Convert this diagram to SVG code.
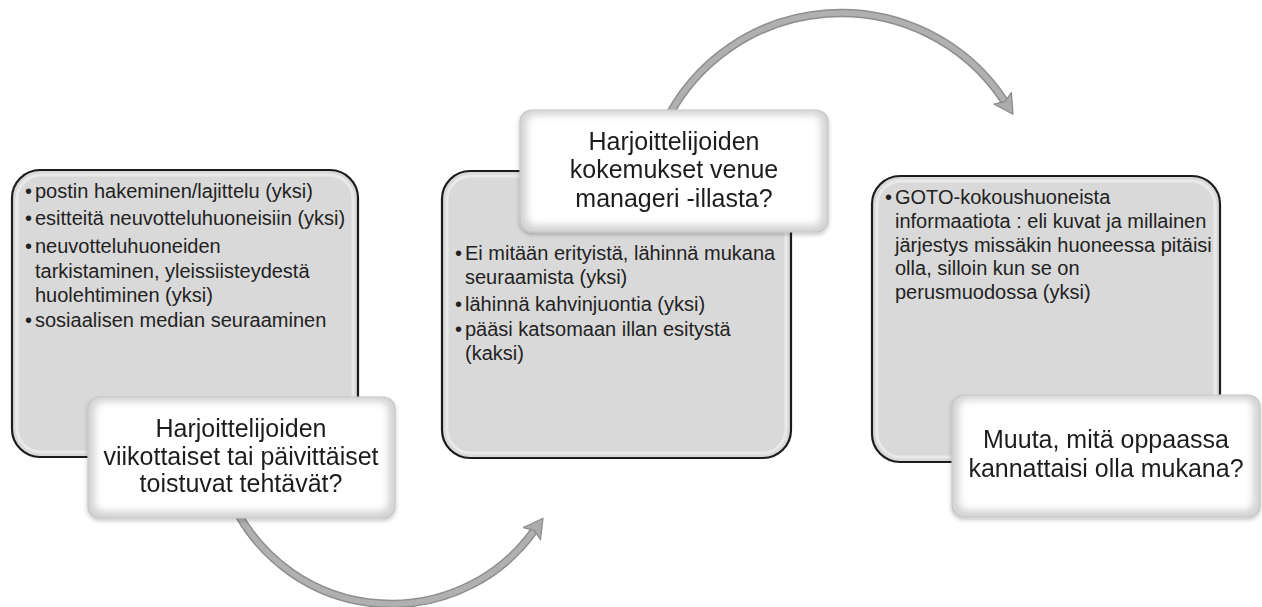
<svg xmlns="http://www.w3.org/2000/svg" width="1262" height="607" viewBox="0 0 1262 607">
<style>
.gbox{fill:#d9d9d9;stroke:#1c1c1c;stroke-width:2.2}
.gbev{fill:none;stroke:#ececec;stroke-width:3;opacity:0.8}
.wout{fill:#d4d4d4;stroke:#c4c4c4;stroke-width:1.2}
.win{fill:#ffffff}
.t{font-family:"Liberation Sans",Arial,sans-serif;font-size:20px;fill:#222222}
.h{font-family:"Liberation Sans",Arial,sans-serif;font-size:25px;fill:#1e1e1e;text-anchor:middle}
.sh-o{fill:none;stroke:#8e8e8e;stroke-width:8.5}
.sh-i{fill:none;stroke:#b0b0b0;stroke-width:5.5}
</style>
<defs>
<filter id="soft" x="-10%" y="-10%" width="120%" height="120%">
<feGaussianBlur stdDeviation="3.5"/>
</filter>
<filter id="shadow" x="-10%" y="-10%" width="120%" height="130%">
<feDropShadow dx="0" dy="2" stdDeviation="2" flood-color="#000" flood-opacity="0.25"/>
</filter>
<linearGradient id="wg" x1="0" y1="0" x2="0" y2="1">
<stop offset="0" stop-color="#ffffff"/>
<stop offset="1" stop-color="#f4f4f4"/>
</linearGradient>
<marker id="ah" markerUnits="userSpaceOnUse" markerWidth="26" markerHeight="26" viewBox="0 0 26 26" refX="5" refY="13" orient="auto">
<path d="M1,2.5 L20,13 L1,23.5 L5,13 Z" fill="#ababab" stroke="#8a8a8a" stroke-width="1.2" stroke-linejoin="round"/>
</marker>
</defs>

<g id="connectors">
<path class="sh-o" d="M236.6,510.9 A175.4,175.4 0 0 0 534.3,530.4"/>
<path class="sh-i" d="M236.6,510.9 A175.4,175.4 0 0 0 534.3,530.4" marker-end="url(#ah)"/>
<path class="sh-o" d="M663.6,126 A195.7,195.7 0 0 1 1004.8,101.6"/>
<path class="sh-i" d="M663.6,126 A195.7,195.7 0 0 1 1004.8,101.6" marker-end="url(#ah)"/>
</g>

<g id="box1">
<rect class="gbox" x="12" y="170" width="346" height="287" rx="28"/>
<rect class="gbev" x="17" y="175" width="336" height="277" rx="24"/>
<text class="t" x="25" y="198">•</text><text class="t" x="35" y="198">postin hakeminen/lajittelu (yksi)</text>
<text class="t" x="25" y="225">•</text><text class="t" x="35" y="225">esitteitä neuvotteluhuoneisiin (yksi)</text>
<text class="t" x="25" y="253">•</text><text class="t" x="35" y="253">neuvotteluhuoneiden</text>
<text class="t" x="35" y="278">tarkistaminen, yleissiisteydestä</text>
<text class="t" x="35" y="302">huolehtiminen (yksi)</text>
<text class="t" x="25" y="327">•</text><text class="t" x="35" y="327">sosiaalisen median seuraaminen</text>
</g>

<g id="label1" filter="url(#shadow)">
<rect class="wout" x="88" y="397" width="307" height="121" rx="12"/>
<rect class="win" x="95" y="402" width="293" height="109" rx="8" filter="url(#soft)"/>
<text class="h" x="241" y="437">Harjoittelijoiden</text>
<text class="h" x="241" y="465">viikottaiset tai päivittäiset</text>
<text class="h" x="241" y="492">toistuvat tehtävät?</text>
</g>

<g id="box2">
<rect class="gbox" x="442" y="171" width="349" height="287" rx="28"/>
<rect class="gbev" x="447" y="176" width="339" height="277" rx="24"/>
<text class="t" x="455" y="260">•</text><text class="t" x="465" y="260">Ei mitään erityistä, lähinnä mukana</text>
<text class="t" x="465" y="284">seuraamista (yksi)</text>
<text class="t" x="455" y="311">•</text><text class="t" x="465" y="311">lähinnä kahvinjuontia (yksi)</text>
<text class="t" x="455" y="336">•</text><text class="t" x="465" y="336">pääsi katsomaan illan esitystä</text>
<text class="t" x="465" y="360">(kaksi)</text>
</g>

<g id="label2" filter="url(#shadow)">
<rect class="wout" x="520" y="110" width="308" height="122" rx="12"/>
<rect class="win" x="527" y="115" width="294" height="110" rx="8" filter="url(#soft)"/>
<text class="h" x="674" y="150">Harjoittelijoiden</text>
<text class="h" x="674" y="178">kokemukset venue</text>
<text class="h" x="674" y="207">manageri -illasta?</text>
</g>

<g id="box3">
<rect class="gbox" x="872" y="176" width="348" height="286" rx="28"/>
<rect class="gbev" x="877" y="181" width="338" height="276" rx="24"/>
<text class="t" x="885" y="204">•</text><text class="t" x="895" y="204">GOTO-kokoushuoneista</text>
<text class="t" x="895" y="228">informaatiota : eli kuvat ja millainen</text>
<text class="t" x="895" y="252">järjestys missäkin huoneessa pitäisi</text>
<text class="t" x="895" y="275">olla, silloin kun se on</text>
<text class="t" x="895" y="299">perusmuodossa (yksi)</text>
</g>

<g id="label3" filter="url(#shadow)">
<rect class="wout" x="952" y="395" width="308" height="122" rx="12"/>
<rect class="win" x="959" y="400" width="294" height="110" rx="8" filter="url(#soft)"/>
<text class="h" x="1106" y="448">Muuta, mitä oppaassa</text>
<text class="h" x="1106" y="477">kannattaisi olla mukana?</text>
</g>
</svg>
